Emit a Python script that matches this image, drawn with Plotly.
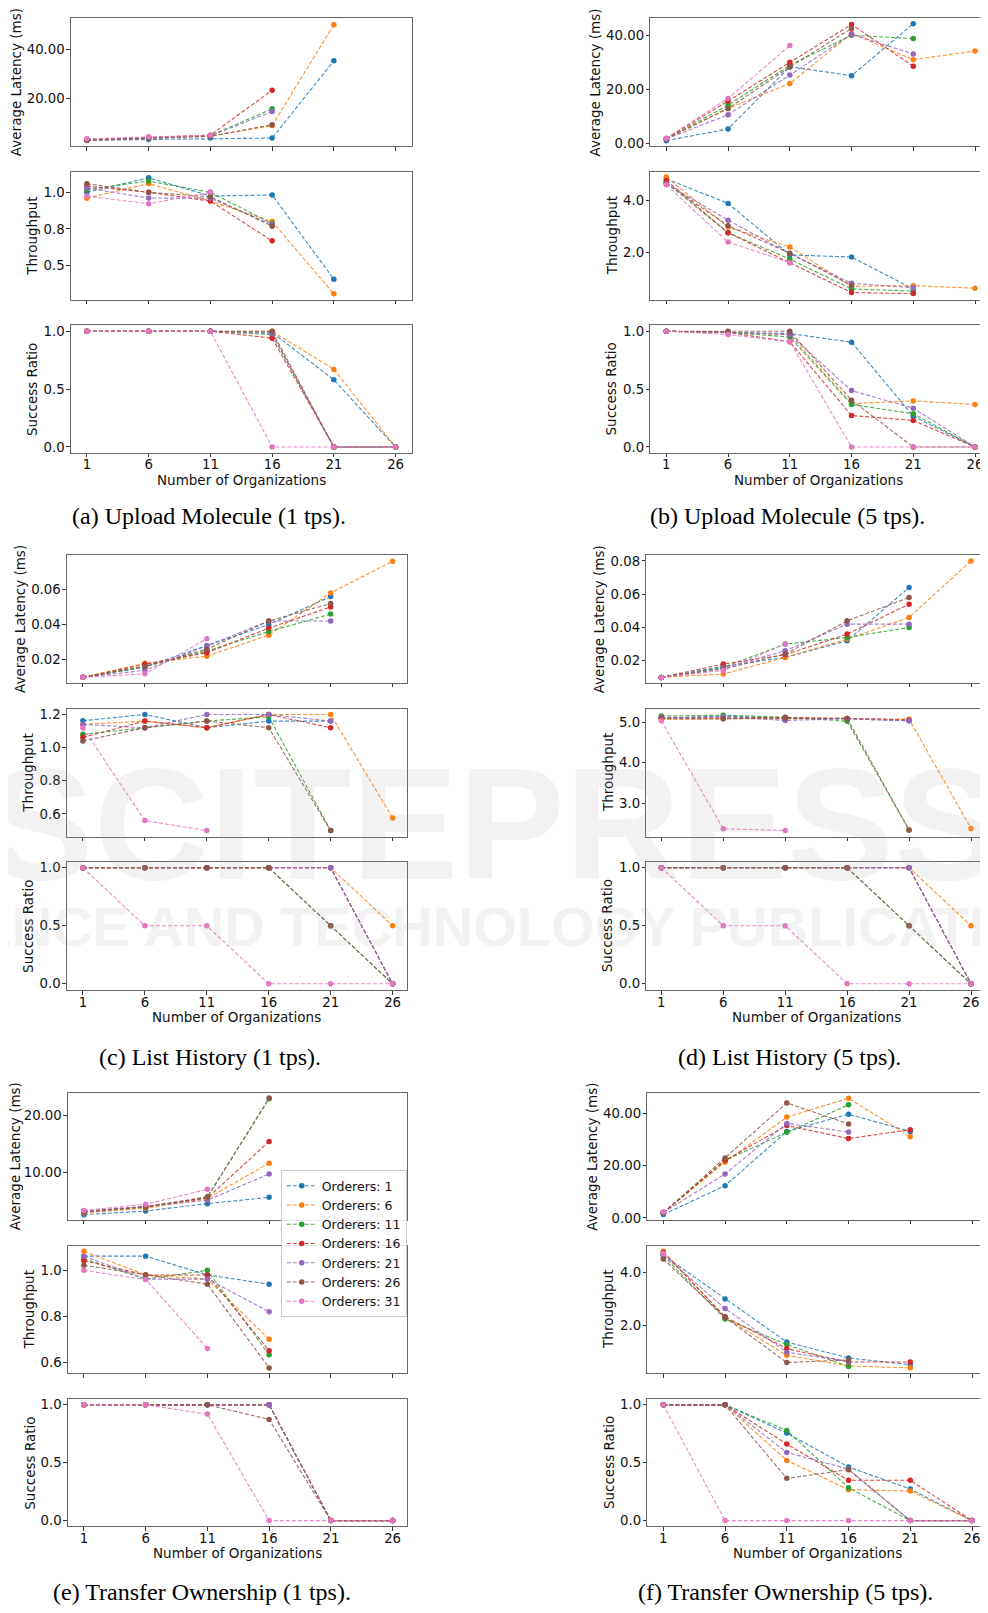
import plotly.graph_objects as go

# ---------------- data ----------------
ORGS = [1, 6, 11, 16, 21, 26]
ORDERERS = [1, 6, 11, 16, 21, 26, 31]
COLORS = ["#1f77b4", "#ff7f0e", "#2ca02c", "#d62728", "#9467bd", "#8c564b", "#e377c2"]

CAPTIONS = ["(a) Upload Molecule (1 tps).", "(b) Upload Molecule (5 tps).",
            "(c) List History (1 tps).", "(d) List History (5 tps).",
            "(e) Transfer Ownership (1 tps).", "(f) Transfer Ownership (5 tps)."]

# (a) Upload Molecule 1 tps
LAT_A = [[2.9, 3.2, 3.8, 3.8, 35.5], [3.0, 3.8, 4.6, 8.9, 50.3], [3.0, 3.9, 4.8, 15.8],
         [3.1, 4.0, 5.0, 23.4], [3.2, 4.0, 4.7, 14.7], [2.8, 3.7, 4.5, 9.3], [3.5, 4.3, 5.0]]
THR_A = [[1.00, 1.10, 0.975, 0.982, 0.405], [0.96, 1.06, 0.94, 0.80, 0.305], [1.02, 1.077, 1.0, 0.786],
         [1.043, 1.0, 0.94, 0.668], [1.03, 0.961, 0.96, 0.78], [1.059, 1.0, 0.97, 0.768], [0.975, 0.922, 1.0]]
SUC_A = [[1, 1, 1, 0.99, 0.58, 0], [1, 1, 1, 1.0, 0.67, 0], [1, 1, 1, 0.97, 0, 0],
         [1, 1, 1, 0.94, 0, 0], [1, 1, 1, 0.98, 0, 0], [1, 1, 1, 1.0, 0, 0], [1, 1, 1, 0, 0, 0]]

# (b) Upload Molecule 5 tps
LAT_B = [[1.1, 5.4, 28.4, 25.1, 44.3], [1.8, 13.0, 22.2, 40.7, 31.0, 34.2], [1.8, 14.2, 28.9, 40.0, 38.8],
         [1.9, 15.7, 30.0, 44.0, 28.6], [1.7, 10.7, 25.3, 40.4, 33.1], [1.8, 13.0, 28.3, 42.5], [2.0, 16.7, 36.2]]
THR_B = [[4.85, 3.90, 1.90, 1.82, 0.58], [4.92, 2.98, 2.21, 0.68, 0.71, 0.61], [4.70, 2.76, 1.74, 0.58, 0.50],
         [4.79, 2.76, 1.60, 0.44, 0.40], [4.66, 3.25, 1.95, 0.80, 0.63], [4.68, 3.03, 1.97, 0.72], [4.62, 2.40, 1.60]]
SUC_B = [[1, 0.99, 0.98, 0.905, 0.266, 0], [1, 0.99, 0.97, 0.375, 0.398, 0.367], [1, 0.99, 0.95, 0.367, 0.287, 0],
         [1, 0.99, 0.908, 0.272, 0.229, 0], [1, 0.99, 0.97, 0.487, 0.335, 0], [1, 1.0, 1.0, 0.404, 0, 0],
         [1, 0.971, 0.91, 0, 0, 0]]

# (c) List History 1 tps
LAT_C = [[0.010, 0.016, 0.028, 0.040, 0.056], [0.010, 0.018, 0.022, 0.034, 0.058, 0.076],
         [0.010, 0.016, 0.025, 0.036, 0.046], [0.010, 0.0174, 0.024, 0.038, 0.050],
         [0.010, 0.014, 0.028, 0.042, 0.042], [0.010, 0.0162, 0.026, 0.042, 0.052], [0.010, 0.012, 0.032]]
THR_C = [[1.162, 1.2, 1.12, 1.16, 1.16], [1.14, 1.16, 1.12, 1.2, 1.2, 0.576], [1.08, 1.12, 1.16, 1.186, 0.5],
         [1.062, 1.16, 1.12, 1.2, 1.12], [1.14, 1.12, 1.2, 1.2, 1.16], [1.04, 1.12, 1.16, 1.12, 0.5],
         [1.12, 0.56, 0.5]]
SUC_C = [[1, 1, 1, 1, 1, 0], [1, 1, 1, 1, 1, 0.5], [1, 1, 1, 1, 0.5, 0], [1, 1, 1, 1, 1, 0],
         [1, 1, 1, 1, 1, 0], [1, 1, 1, 1, 0.5, 0], [1, 0.5, 0.5, 0, 0, 0]]

# (d) List History 5 tps
LAT_D = [[0.010, 0.0166, 0.022, 0.032, 0.064], [0.010, 0.012, 0.022, 0.033, 0.046, 0.080],
         [0.010, 0.016, 0.030, 0.034, 0.040], [0.010, 0.018, 0.0236, 0.036, 0.054],
         [0.010, 0.0156, 0.026, 0.042, 0.042], [0.010, 0.015, 0.024, 0.044, 0.058], [0.010, 0.0142, 0.030]]
THR_D = [[5.10, 5.16, 5.10, 5.09, 5.04], [5.07, 5.09, 5.09, 5.10, 5.08, 2.37], [5.16, 5.18, 5.13, 5.03, 2.33],
         [5.12, 5.11, 5.12, 5.10, 5.06], [5.12, 5.14, 5.05, 5.09, 5.04], [5.10, 5.09, 5.11, 5.10, 2.33],
         [5.04, 2.36, 2.32]]
SUC_D = [[1, 1, 1, 1, 1, 0], [1, 1, 1, 1, 1, 0.5], [1, 1, 1, 1, 0.5, 0], [1, 1, 1, 1, 1, 0],
         [1, 1, 1, 1, 1, 0], [1, 1, 1, 1, 0.5, 0], [1, 0.5, 0.5, 0, 0, 0]]

# (e) Transfer Ownership 1 tps
LAT_E = [[2.67, 3.3, 4.6, 5.7], [3.0, 3.8, 5.5, 11.7], [3.2, 4.0, 5.7, 23.0], [3.3, 4.1, 5.6, 15.5],
         [3.2, 4.1, 5.2, 9.8], [3.1, 4.0, 5.8, 23.1], [3.4, 4.5, 7.1]]
THR_E = [[1.062, 1.062, 0.98, 0.94], [1.083, 0.98, 0.962, 0.70], [1.05, 0.962, 1.0, 0.632],
         [1.042, 0.98, 0.98, 0.65], [1.062, 0.962, 0.962, 0.82], [1.022, 0.98, 0.94, 0.575], [1.0, 0.96, 0.66]]
SUC_E = [[1, 1, 1, 1, 0, 0], [1, 1, 1, 1, 0, 0], [1, 1, 1, 1, 0, 0], [1, 1, 1, 1, 0, 0],
         [1, 1, 1, 1, 0, 0], [1, 1, 1, 0.874, 0, 0], [1, 1, 0.92, 0, 0, 0]]

# (f) Transfer Ownership 5 tps
LAT_F = [[1.3, 12.3, 33.0, 39.6, 33.0], [2.0, 21.3, 38.5, 45.7, 31.0], [2.0, 22.0, 32.7, 43.2],
         [2.0, 22.0, 35.3, 30.3, 33.7], [2.0, 16.8, 36.1, 32.8], [2.0, 22.9, 43.9, 35.9], [2.4]]
THR_F = [[4.65, 3.0, 1.38, 0.78, 0.53], [4.8, 2.31, 0.88, 0.48, 0.41], [4.62, 2.25, 1.28, 0.46],
         [4.75, 2.33, 1.13, 0.63, 0.63], [4.66, 2.64, 1.0, 0.65], [4.5, 2.31, 0.61, 0.71], [4.71]]
SUC_F = [[1, 1, 0.756, 0.463, 0.273, 0], [1, 1, 0.52, 0.267, 0.256, 0], [1, 1, 0.779, 0.284, 0, 0],
         [1, 1, 0.661, 0.348, 0.348, 0], [1, 1, 0.589, 0.445, 0, 0], [1, 1, 0.365, 0.44, 0, 0],
         [1, 0, 0, 0, 0, 0]]

# ---------------- layout config ----------------
PAGE_W, PAGE_H = 988, 1613
OFF = 8                      # default page (body) margin of the browser
W, H = PAGE_W - OFF, PAGE_H - OFF
TICKFONT = dict(family="DejaVu Sans", size=13.3, color="#111")
LABELFONT = dict(family="DejaVu Sans", size=13.5, color="#111")


def fx(px):
    return (px - OFF) / W


def fy(py):
    return 1 - (py - OFF) / H


ROWS_Y = {0: [(16, 145), (171, 299), (325, 453)],
          1: [(556, 684), (710, 839), (864, 993)],
          2: [(1096, 1224), (1250, 1378), (1404, 1532)]}

PANELS = [
    dict(data=(LAT_A, THR_A, SUC_A), row=0, x=(71, 87, 396, 412),
         yr=[(0.41, 53.06), (0.266, 1.138), (-0.05, 1.05)],
         yt=[([20, 40], ["20.00", "40.00"]), ([0.5, 0.75, 1.0], ["0.5", "0.8", "1.0"]), None],
         tx=[16, 32, 32], cap=(209.5, 517)),
    dict(data=(LAT_B, THR_B, SUC_B), row=0, x=(651, 667, 976, 988),
         yr=[(-1.0, 46.4), (0.17, 5.11), (-0.05, 1.05)],
         yt=[([0, 20, 40], ["0.00", "20.00", "40.00"]), ([2, 4], ["2.0", "4.0"]), None],
         tx=[596, 612, 612], cap=(788, 517)),
    dict(data=(LAT_C, THR_C, SUC_C), row=1, x=(67, 83, 393, 407),
         yr=[(0.007, 0.0794), (0.462, 1.236), (-0.054, 1.051)],
         yt=[([0.02, 0.04, 0.06], ["0.02", "0.04", "0.06"]), ([0.6, 0.8, 1.0, 1.2], ["0.6", "0.8", "1.0", "1.2"]), None],
         tx=[20, 28, 28], cap=(210, 1060)),
    dict(data=(LAT_D, THR_D, SUC_D), row=1, x=(647, 662, 972, 987),
         yr=[(0.00684, 0.0834), (2.16, 5.346), (-0.054, 1.051)],
         yt=[([0.02, 0.04, 0.06, 0.08], ["0.02", "0.04", "0.06", "0.08"]), ([3, 4, 5], ["3.0", "4.0", "5.0"]), None],
         tx=[600, 608, 608], cap=(790, 1060)),
    dict(data=(LAT_E, THR_E, SUC_E), row=2, x=(68, 84, 393, 407),
         yr=[(1.74, 24.07), (0.552, 1.107), (-0.05, 1.05)],
         yt=[([10, 20], ["10.00", "20.00"]), ([0.6, 0.8, 1.0], ["0.6", "0.8", "1.0"]), None],
         tx=[15, 30, 30], cap=(202, 1598)),
    dict(data=(LAT_F, THR_F, SUC_F), row=2, x=(648, 664, 973, 988),
         yr=[(-0.76, 47.86), (0.21, 5.0), (-0.05, 1.05)],
         yt=[([0, 20, 40], ["0.00", "20.00", "40.00"]), ([2, 4], ["2.0", "4.0"]), None],
         tx=[593, 609, 609], cap=(786.5, 1598)),
]
YTITLES = ["Average Latency (ms)", "Throughput", "Success Ratio"]


def rgba(hex_c, a):
    h = hex_c.lstrip("#")
    return "rgba(%d,%d,%d,%.2f)" % (int(h[0:2], 16), int(h[2:4], 16), int(h[4:6], 16), a)


fig = go.Figure()
layout = dict(width=W, height=H, margin=dict(l=0, r=0, t=0, b=0),
              paper_bgcolor="white", plot_bgcolor="white", showlegend=True)
annotations = []

for p, P in enumerate(PANELS):
    x0, t1, t26, xr = P["x"]
    s = (t26 - t1) / 25.0
    xrange_ = [1 - (t1 - x0) / s, 26 + (xr - t26) / s]
    for r in range(3):
        idx = p * 3 + r + 1
        xn = "xaxis" if idx == 1 else "xaxis%d" % idx
        yn = "yaxis" if idx == 1 else "yaxis%d" % idx
        xa = "x" if idx == 1 else "x%d" % idx
        ya = "y" if idx == 1 else "y%d" % idx
        ytop, ybot = ROWS_Y[P["row"]][r]
        common = dict(showline=True, mirror=True, linecolor="#666", linewidth=1,
                      ticks="outside", ticklen=3.5, tickwidth=1, tickcolor="#333",
                      showgrid=False, zeroline=False, tickfont=TICKFONT, fixedrange=True)
        layout[xn] = dict(common, domain=[fx(x0), min(fx(xr), 1.0)], range=xrange_, anchor=ya,
                          tickmode="array", tickvals=ORGS, ticktext=[str(o) for o in ORGS],
                          showticklabels=(r == 2), ticklabelstandoff=-4)
        yt = P["yt"][r] if P["yt"][r] is not None else ([0, 0.5, 1.0], ["0.0", "0.5", "1.0"])
        layout[yn] = dict(common, domain=[fy(ybot), fy(ytop)], range=list(P["yr"][r]),
                          anchor=xa, tickmode="array", tickvals=yt[0], ticktext=yt[1],
                          ticklabelstandoff=-1)
        series = P["data"][r]
        for k, vals in enumerate(series):
            fig.add_trace(go.Scatter(
                x=ORGS[:len(vals)], y=vals, mode="lines+markers",
                line=dict(color=rgba(COLORS[k], 0.85), width=1.1, dash="4px,2px"),
                marker=dict(color=COLORS[k], size=5.5),
                name="Orderers: %d" % ORDERERS[k], legendgroup="o%d" % k,
                showlegend=(p == 4 and r == 0),
                xaxis=xa, yaxis=ya, hoverinfo="skip"))
        annotations.append(dict(text=YTITLES[r], x=fx(P["tx"][r]), y=fy((ytop + ybot) / 2),
                                xref="paper", yref="paper", xanchor="center", yanchor="middle",
                                textangle=-90, showarrow=False, font=LABELFONT))
    sy = ROWS_Y[P["row"]][2][1]
    annotations.append(dict(text="Number of Organizations", x=fx((x0 + min(xr, PAGE_W)) / 2),
                            y=fy(sy + 27), xref="paper", yref="paper",
                            xanchor="center", yanchor="middle", showarrow=False, font=LABELFONT))
    annotations.append(dict(text=CAPTIONS[p], x=fx(P["cap"][0]), y=fy(P["cap"][1]),
                            xref="paper", yref="paper", xanchor="center", yanchor="middle",
                            showarrow=False,
                            font=dict(family="Liberation Serif", size=24, color="#000")))

# faint publisher watermark
annotations.append(dict(text="<b>SCITEPRESS</b>", x=fx(494), y=fy(826), xref="paper", yref="paper",
                        xanchor="center", yanchor="middle", showarrow=False,
                        font=dict(family="Liberation Sans", size=160, color="rgba(170,170,170,0.15)")))
annotations.append(dict(text="<b>SCIENCE AND TECHNOLOGY PUBLICATIONS</b>", x=fx(494), y=fy(929),
                        xref="paper", yref="paper", xanchor="center", yanchor="middle", showarrow=False,
                        font=dict(family="Liberation Sans", size=56, color="rgba(170,170,170,0.15)")))

layout["annotations"] = annotations
layout["legend"] = dict(x=fx(281), y=fy(1174), xanchor="left", yanchor="top",
                        bgcolor="rgba(255,255,255,0.85)", bordercolor="#cccccc", borderwidth=1,
                        font=dict(family="DejaVu Sans", size=12.5, color="#111"),
                        tracegroupgap=0, itemwidth=30)
fig.update_layout(**layout)
fig.write_html("out.html")
